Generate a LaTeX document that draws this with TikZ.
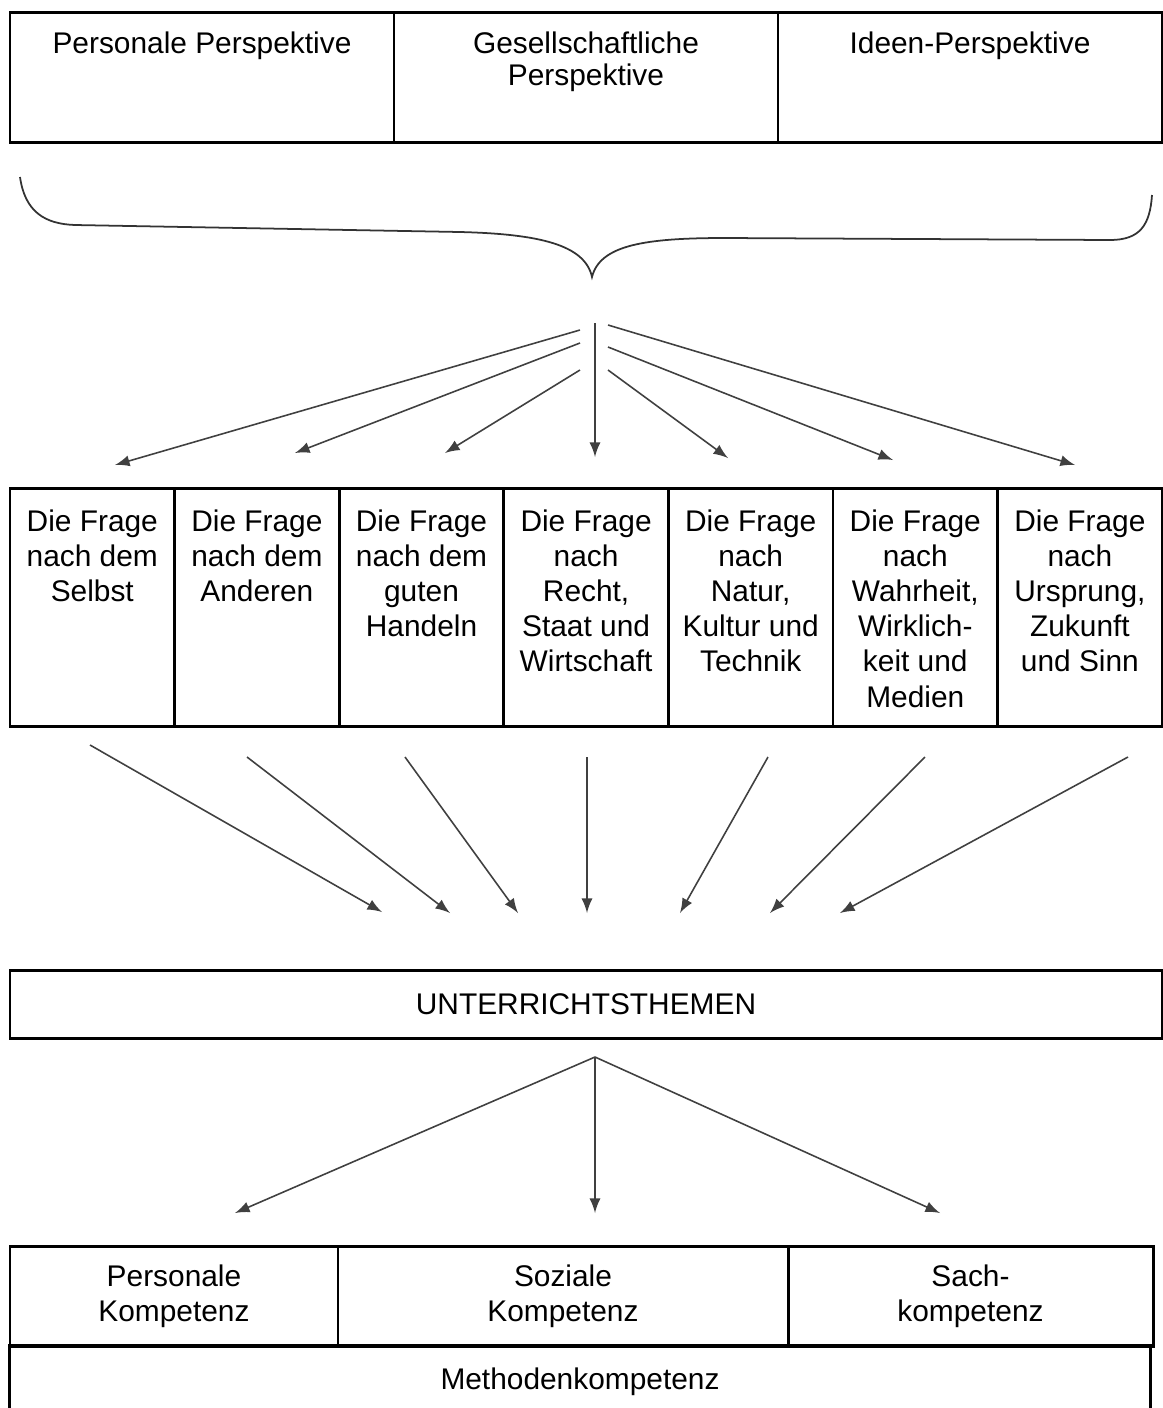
\documentclass[tikz,border=0pt]{standalone}
\usepackage{fontspec}
\setmainfont{Liberation Sans}
\usepackage{tikz}
\usetikzlibrary{positioning}
\tikzset{
    feld/.style = {
        draw, line width = 0.85pt,
        outer sep = 0pt, inner sep = 0pt,
        align = center,
        font = \fontsize{8.5}{10}\selectfont
    },
    txt/.style = {
        align = center, inner sep = 0pt,
        font = \fontsize{8.5}{10}\selectfont
    },
    pfeil/.style = {-latex, draw = black!75, line width = 0.45pt},
    klammer/.style = {draw = black!80, line width = 0.5pt}
}

\begin{document}
\begin{tikzpicture}
\useasboundingbox (0,0) rectangle (11.63,-14.08);

% Perspektiven
\node[feld, minimum width = 3.84cm, minimum height = 1.30cm,
    label = {[txt, anchor = north, label distance = -0.19cm]north:{Personale Perspektive}}] (pers) at (2.02,-0.77) {};
\node[feld, minimum width = 3.84cm, minimum height = 1.30cm, right = 0pt of pers,
    label = {[txt, font = \fontsize{8.5}{9.2}\selectfont, anchor = north, label distance = -0.19cm]north:{Gesellschaftliche\\Perspektive}}] (gesell) {};
\node[feld, minimum width = 3.84cm, minimum height = 1.30cm, right = 0pt of gesell,
    label = {[txt, anchor = north, label distance = -0.19cm]north:{Ideen-Perspektive}}] (ideen) {};

% Klammer
\draw[klammer] (0.20,-1.77) .. controls (0.25,-2.12) and (0.45,-2.24) .. (0.75,-2.25)
    -- (4.60,-2.32) .. controls (5.40,-2.34) and (5.85,-2.45) .. (5.92,-2.77)
    .. controls (6.00,-2.45) and (6.45,-2.38) .. (7.25,-2.38)
    -- (11.10,-2.40) .. controls (11.40,-2.40) and (11.50,-2.25) .. (11.52,-1.95);

% Fragen
\node[feld, minimum width = 1.646cm, minimum height = 2.38cm,
    label = {[txt, anchor = north, label distance = -0.21cm]north:{Die Frage\\nach dem\\Selbst}}] (f1) at (0.923,-6.07) {};
\node[feld, minimum width = 1.646cm, minimum height = 2.38cm, right = 0pt of f1,
    label = {[txt, anchor = north, label distance = -0.21cm]north:{Die Frage\\nach dem\\Anderen}}] (f2) {};
\node[feld, minimum width = 1.646cm, minimum height = 2.38cm, right = 0pt of f2,
    label = {[txt, anchor = north, label distance = -0.21cm]north:{Die Frage\\nach dem\\guten\\Handeln}}] (f3) {};
\node[feld, minimum width = 1.646cm, minimum height = 2.38cm, right = 0pt of f3,
    label = {[txt, anchor = north, label distance = -0.21cm]north:{Die Frage\\nach\\Recht,\\Staat und\\Wirtschaft}}] (f4) {};
\node[feld, minimum width = 1.646cm, minimum height = 2.38cm, right = 0pt of f4,
    label = {[txt, anchor = north, label distance = -0.21cm]north:{Die Frage\\nach\\Natur,\\Kultur und\\Technik}}] (f5) {};
\node[feld, minimum width = 1.646cm, minimum height = 2.38cm, right = 0pt of f5,
    label = {[txt, anchor = north, label distance = -0.21cm]north:{Die Frage\\nach\\Wahrheit,\\Wirklich-\\keit und\\Medien}}] (f6) {};
\node[feld, minimum width = 1.646cm, minimum height = 2.38cm, right = 0pt of f6,
    label = {[txt, anchor = north, label distance = -0.21cm]north:{Die Frage\\nach\\Ursprung,\\Zukunft\\und Sinn}}] (f7) {};

% Themen
\node[feld, minimum width = 11.52cm, minimum height = 0.68cm] (themen) at (5.86,-10.04) {UNTERRICHTSTHEMEN};

% Kompetenzen
\node[feld, minimum width = 3.28cm, minimum height = 1.00cm] (kpers) at (1.74,-12.96) {Personale\\Kompetenz};
\node[feld, minimum width = 4.50cm, minimum height = 1.00cm, right = 0pt of kpers] (ksoz) {Soziale\\Kompetenz};
\node[feld, minimum width = 3.65cm, minimum height = 1.00cm, right = 0pt of ksoz] (ksach) {Sach-\\kompetenz};
\node[txt, minimum width = 11.40cm, minimum height = 0.72cm] (kmeth) at (5.80,-13.82) {Methodenkompetenz};
\draw[line width = 0.85pt] (kmeth.south west) |- (kmeth.north east) -- (kmeth.south east);

% Pfeile Klammer -> Fragen
\coordinate (k1) at (5.80,-3.30);
\coordinate (k2) at (5.80,-3.43);
\coordinate (k3) at (5.80,-3.70);
\coordinate (k4) at (5.95,-3.23);
\coordinate (k5) at (6.08,-3.70);
\coordinate (k6) at (6.08,-3.47);
\coordinate (k7) at (6.08,-3.25);
\coordinate (q1) at (1.15,-4.65);
\coordinate (q2) at (2.95,-4.53);
\coordinate (q3) at (4.45,-4.53);
\coordinate (q4) at (5.95,-4.57);
\coordinate (q5) at (7.28,-4.58);
\coordinate (q6) at (8.93,-4.60);
\coordinate (q7) at (10.75,-4.65);
\draw[pfeil] (k1) -- (q1);
\draw[pfeil] (k2) -- (q2);
\draw[pfeil] (k3) -- (q3);
\draw[pfeil] (k4) -- (q4);
\draw[pfeil] (k5) -- (q5);
\draw[pfeil] (k6) -- (q6);
\draw[pfeil] (k7) -- (q7);

% Pfeile Fragen -> Themen
\coordinate (u1) at (0.90,-7.45);
\coordinate (u2) at (2.47,-7.57);
\coordinate (u3) at (4.05,-7.57);
\coordinate (u4) at (5.87,-7.57);
\coordinate (u5) at (7.68,-7.57);
\coordinate (u6) at (9.25,-7.57);
\coordinate (u7) at (11.28,-7.57);
\coordinate (t1) at (3.82,-9.12);
\coordinate (t2) at (4.50,-9.13);
\coordinate (t3) at (5.18,-9.13);
\coordinate (t4) at (5.87,-9.13);
\coordinate (t5) at (6.80,-9.13);
\coordinate (t6) at (7.70,-9.13);
\coordinate (t7) at (8.40,-9.13);
\draw[pfeil] (u1) -- (t1);
\draw[pfeil] (u2) -- (t2);
\draw[pfeil] (u3) -- (t3);
\draw[pfeil] (u4) -- (t4);
\draw[pfeil] (u5) -- (t5);
\draw[pfeil] (u6) -- (t6);
\draw[pfeil] (u7) -- (t7);

% Pfeile Themen -> Kompetenzen
\coordinate (v) at (5.95,-10.57);
\coordinate (w1) at (2.35,-12.13);
\coordinate (w2) at (5.95,-12.13);
\coordinate (w3) at (9.40,-12.13);
\draw[pfeil] (v) -- (w1);
\draw[pfeil] (v) -- (w2);
\draw[pfeil] (v) -- (w3);

\end{tikzpicture}
\end{document}
